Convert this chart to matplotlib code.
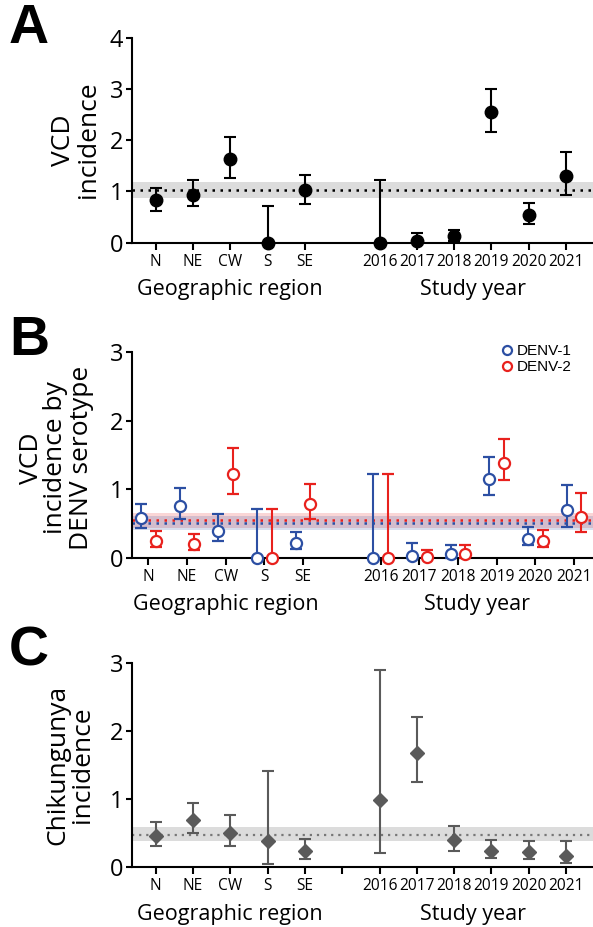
import matplotlib
matplotlib.use('Agg')
import matplotlib.pyplot as plt
import numpy as np

# categories
regions = ['N', 'NE', 'CW', 'S', 'SE']
years = ['2016', '2017', '2018', '2019', '2020', '2021']
labels = regions + years

# panel A: VCD incidence
vcd = [0.83, 0.94, 1.64, 0.0, 1.02, 0.0, 0.03, 0.12, 2.56, 0.54, 1.31]
vcd_lo = [0.62, 0.71, 1.27, 0.0, 0.75, 0.0, 0.0, 0.02, 2.16, 0.37, 0.94]
vcd_hi = [1.07, 1.22, 2.07, 0.72, 1.33, 1.23, 0.18, 0.25, 3.00, 0.77, 1.77]
vcd_mean = 1.03
vcd_band = (0.88, 1.19)

# panel B: by serotype
d1 = [0.58, 0.76, 0.39, 0.0, 0.21, 0.0, 0.03, 0.05, 1.15, 0.28, 0.69]
d1_lo = [0.43, 0.57, 0.24, 0.0, 0.12, 0.0, 0.0, 0.0, 0.92, 0.18, 0.45]
d1_hi = [0.79, 1.02, 0.64, 0.71, 0.38, 1.22, 0.22, 0.18, 1.47, 0.45, 1.06]
d2 = [0.24, 0.20, 1.22, 0.0, 0.79, 0.0, 0.01, 0.05, 1.39, 0.25, 0.60]
d2_lo = [0.15, 0.11, 0.93, 0.0, 0.57, 0.0, 0.0, 0.0, 1.13, 0.15, 0.38]
d2_hi = [0.39, 0.35, 1.60, 0.71, 1.08, 1.22, 0.11, 0.18, 1.74, 0.41, 0.94]
d1_mean, d1_band = 0.50, (0.40, 0.61)
d2_mean, d2_band = 0.55, (0.43, 0.66)

# panel C: chikungunya
chik = [0.46, 0.70, 0.51, 0.39, 0.24, 0.99, 1.67, 0.40, 0.24, 0.22, 0.16]
chik_lo = [0.31, 0.50, 0.31, 0.05, 0.12, 0.21, 1.25, 0.24, 0.14, 0.12, 0.06]
chik_hi = [0.66, 0.95, 0.77, 1.41, 0.42, 2.89, 2.20, 0.61, 0.40, 0.38, 0.38]
chik_mean = 0.48
chik_band = (0.39, 0.59)

pos = np.array([0, 1, 2, 3, 4, 6, 7, 8, 9, 10, 11], dtype=float)

BLUE = '#2c4fa3'
RED = '#e8211d'
GRAY = '#5a5a5a'

plt.rcParams['font.family'] = ['Open Sans', 'DejaVu Sans']

W, H = 593, 927
fig = plt.figure(figsize=(W / 100, H / 100), dpi=100)


def px_axes(left, top, bottom):
    return fig.add_axes([left / W, 1 - bottom / H, 1 - left / W, (bottom - top) / H])


def style(ax, ymax, xlim, gap_tick=False):
    ax.set_ylim(0, ymax)
    ax.set_xlim(*xlim)
    ax.set_yticks(range(ymax + 1))
    ticks = list(pos)
    ticklabels = list(labels)
    if gap_tick:
        ticks.insert(5, 5)
        ticklabels.insert(5, '')
    ax.set_xticks(ticks)
    ax.set_xticklabels(ticklabels, fontsize=11.2)
    ax.tick_params(axis='y', labelsize=17, length=4, width=1.5, pad=2)
    ax.tick_params(axis='x', length=5, width=1.5, pad=3)
    for s in ['top', 'right']:
        ax.spines[s].set_visible(False)
    for s in ['left', 'bottom']:
        ax.spines[s].set_linewidth(1.5)
    for x, t in [(2, 'Geographic region'), (8.5, 'Study year')]:
        ax.annotate(t, xy=(x, 0), xycoords=('data', 'axes fraction'),
                    xytext=(0, -34), textcoords='offset points',
                    ha='center', va='center', fontsize=15.5, annotation_clip=False)


def errs(v, lo, hi):
    v = np.array(v)
    return [v - np.array(lo), np.array(hi) - v]


# ---- A ----
axA = px_axes(131.7, 38.3, 242.5)
axA.axhspan(*vcd_band, color='#dcdcdc', lw=0, zorder=0)
axA.axhline(vcd_mean, color='black', ls=(0, (1, 2.2)), lw=1.8, zorder=1)
axA.errorbar(pos, vcd, yerr=errs(vcd, vcd_lo, vcd_hi), fmt='o', color='black',
             ms=9, elinewidth=1.5, capsize=4, capthick=1.5, clip_on=False, zorder=3)
style(axA, 4, (-0.64, 11.72))
fig.text(75.6 / W, 1 - 140 / H, 'VCD\nincidence', rotation=90, ha='center', va='center',
         fontsize=19, linespacing=1.0)
fig.text(9 / W, 1 - 29 / H, 'A', fontsize=40, fontweight='bold', family='Liberation Sans',
         ha='left', va='center')

# ---- B ----
axB = px_axes(131.7, 352.3, 557.7)
axB.axhspan(*d2_band, color=RED, alpha=0.18, lw=0, zorder=0)
axB.axhspan(*d1_band, color=BLUE, alpha=0.18, lw=0, zorder=0)
axB.axhline(d2_mean, color=RED, ls=(0, (1, 2.2)), lw=1.8, zorder=1)
axB.axhline(d1_mean, color=BLUE, ls=(0, (1, 2.2)), lw=1.8, zorder=1)
off = 0.19
axB.errorbar(pos - off, d1, yerr=errs(d1, d1_lo, d1_hi), fmt='o', color=BLUE, mfc='white',
             mew=1.6, ms=8, elinewidth=1.5, capsize=4, capthick=1.5, clip_on=False,
             zorder=3)
axB.errorbar(pos + off, d2, yerr=errs(d2, d2_lo, d2_hi), fmt='o', color=RED, mfc='white',
             mew=1.6, ms=8, elinewidth=1.5, capsize=4, capthick=1.5, clip_on=False,
             zorder=3)
style(axB, 3, (-0.43, 11.49))
leg_h = [plt.Line2D([], [], marker='o', ls='', mfc='none', mec=c, mew=1.6, ms=6.5)
         for c in (BLUE, RED)]
fig.legend(leg_h, ['DENV-1', 'DENV-2'], loc='upper left',
           bbox_to_anchor=(501 / W, 1 - 344.4 / H), frameon=False, borderpad=0,
           borderaxespad=0, handlelength=0.8, handletextpad=0.25, labelspacing=0.11,
           prop={'family': 'Liberation Sans', 'size': 11})
fig.text(56 / W, 1 - 458 / H, 'VCD\nincidence by\nDENV serotype', rotation=90,
         ha='center', va='center', fontsize=19, linespacing=1.0)
fig.text(9 / W, 1 - 341 / H, 'B', fontsize=40, fontweight='bold', family='Liberation Sans',
         ha='left', va='center')

# ---- C ----
axC = px_axes(131.7, 662.7, 867.3)
axC.axhspan(*chik_band, color='#dcdcdc', lw=0, zorder=0)
axC.axhline(chik_mean, color='#777777', ls=(0, (1, 2.2)), lw=1.6, zorder=1)
axC.errorbar(pos, chik, yerr=errs(chik, chik_lo, chik_hi), fmt='D', color=GRAY,
             ms=7.5, elinewidth=1.5, capsize=4, capthick=1.5, clip_on=False, zorder=3)
style(axC, 3, (-0.64, 11.72), gap_tick=True)
fig.text(70 / W, 1 - 765 / H, 'Chikungunya\nincidence', rotation=90, ha='center',
         va='center', fontsize=19, linespacing=1.0)
fig.text(9 / W, 1 - 651 / H, 'C', fontsize=40, fontweight='bold', family='Liberation Sans',
         ha='left', va='center')

fig.savefig('out.png', dpi=100)
